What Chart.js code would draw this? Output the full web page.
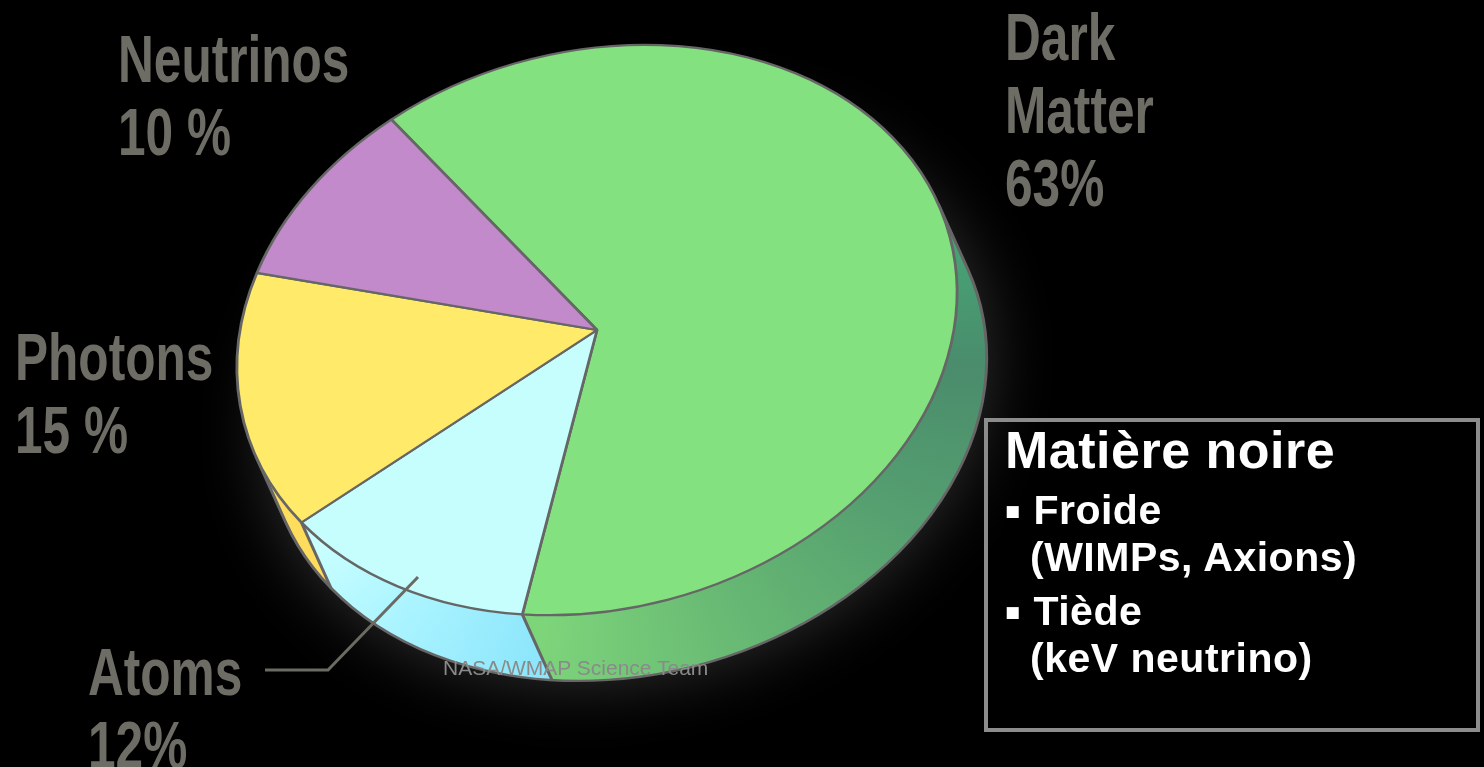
<!DOCTYPE html>
<html>
<head>
<meta charset="utf-8">
<title>Matière noire</title>
<script src="https://cdn.jsdelivr.net/npm/chart.js@4.4.1/dist/chart.umd.min.js"></script>
<style>
  html, body { margin: 0; padding: 0; background: #000; overflow: hidden; }
  #wrap { position: relative; width: 1484px; height: 767px; }
  #pie { position: absolute; left: 0; top: 0; }
  .lbl {
    position: absolute; color: #6d6d66; white-space: nowrap;
    font-family: "Liberation Sans", Arial, sans-serif;
    font-weight: bold; font-size: 67px; line-height: 73px;
    transform: scaleX(0.74); transform-origin: 0 0;
  }
  .box {
    position: absolute; left: 984px; top: 418px; width: 488px; height: 306px;
    border: 4px solid #8c8c8c;
  }
  .bx {
    position: absolute; color: #fff; white-space: nowrap; line-height: 1;
    font-family: "Liberation Sans", Arial, sans-serif; font-weight: bold;
    font-size: 41px; letter-spacing: 0.5px;
  }
  .bx .dot { font-size: 48px; vertical-align: -3px; }
  .credit {
    position: absolute; left: 443px; top: 657px; color: #8a8a8a; white-space: nowrap;
    font-family: "Liberation Sans", Arial, sans-serif; font-size: 21px; line-height: 1;
  }
</style>
</head>
<body>
<div id="wrap">
  <canvas id="pie" width="1484" height="767"></canvas>

  <div class="lbl" style="left:118px; top:22px">Neutrinos<br>10 %</div>
  <div class="lbl" style="left:1005px; top:0px">Dark<br>Matter<br>63%</div>
  <div class="lbl" style="left:15px; top:320px">Photons<br>15 %</div>
  <div class="lbl" style="left:88px; top:635px">Atoms<br>12%</div>

  <div class="credit">NASA/WMAP Science Team</div>

  <div class="box"></div>
  <div class="bx" style="left:1005px; top:424px; font-size:52px">Matière noire</div>
  <div class="bx" style="left:1004px; top:487px"><span class="dot">▪</span> Froide</div>
  <div class="bx" style="left:1030px; top:537px">(WIMPs, Axions)</div>
  <div class="bx" style="left:1004px; top:588px"><span class="dot">▪</span> Tiède</div>
  <div class="bx" style="left:1030px; top:638px">(keV neutrino)</div>
</div>

<script>
// ---------- data ----------
const sliceNames = ['Dark Matter', 'Atoms', 'Photons', 'Neutrinos'];
const shares = [63, 12, 15, 10];
const topColors = ['#83e17f', '#c6fefe', '#ffea6a', '#c28acb'];

// side (rim) colours, as [angle in degrees, colour]
const sideStops = [
  [[-60, '#41b279'], [-11, '#46a877'], [20, '#4a8c6c'], [50, '#559f70'], [80, '#66b773'], [113, '#7dd57a']],
  [[113, '#8de6fb'], [135, '#a8f3ff'], [158, '#c9ffff']],
  [[150, '#ffdd5c'], [215, '#ffdd5c']],
  [[205, '#a877b2'], [250, '#a877b2']]
];

// ---------- tilted disc geometry ----------
const CENTER = { x: 597, y: 330 };
const RADIUS = 365;
const TILT = -14.7 * Math.PI / 180;
const SQUASH = 0.764;
const DEPTH = { x: 12, y: 93 };   // thickness of the disc, in disc units
const LAYERS = 80;
const EDGE = '#666666';

function sideGradient(ctx, cx, cy, stops) {
  const g = ctx.createConicGradient(-Math.PI / 2, cx, cy);
  stops.forEach(([deg, col]) => {
    const off = (((deg + 90) % 360) + 360) % 360 / 360;
    g.addColorStop(off, col);
  });
  return g;
}

function drawSide(ctx, arcs, cx, cy, k) {
  const dx = DEPTH.x / k, dy = DEPTH.y / k;
  const r = arcs[0].outerRadius;
  const fills = arcs.map((a, i) => sideGradient(ctx, cx + dx / 2, cy + dy / 2, sideStops[i]));

  // stack of layers from the bottom face up to just under the top face
  for (let s = LAYERS; s >= 1; s--) {
    const t = s / LAYERS;
    const ox = cx + dx * t, oy = cy + dy * t;
    if (s === LAYERS) {
      // soft halo behind the disc
      ctx.save();
      ctx.shadowColor = 'rgba(255,255,255,0.2)';
      ctx.shadowBlur = 70;
      ctx.beginPath();
      ctx.arc(ox, oy, r, 0, Math.PI * 2);
      ctx.fillStyle = '#222';
      ctx.fill();
      ctx.restore();
    }
    arcs.forEach((a, i) => {
      ctx.beginPath();
      ctx.moveTo(ox, oy);
      ctx.arc(ox, oy, r, a.startAngle, a.endAngle);
      ctx.closePath();
      ctx.fillStyle = fills[i];
      ctx.fill();
    });
  }

  // visible outline: front half of the bottom rim plus the two silhouette edges
  const dir = Math.atan2(dy, dx);
  const a0 = dir - Math.PI / 2, a1 = dir + Math.PI / 2;
  ctx.save();
  ctx.strokeStyle = EDGE;
  ctx.lineWidth = 3 / k;
  ctx.lineJoin = 'round';
  ctx.beginPath();
  ctx.moveTo(cx + r * Math.cos(a0), cy + r * Math.sin(a0));
  ctx.lineTo(cx + dx + r * Math.cos(a0), cy + dy + r * Math.sin(a0));
  ctx.arc(cx + dx, cy + dy, r, a0, a1);
  ctx.lineTo(cx + r * Math.cos(a1), cy + r * Math.sin(a1));
  ctx.stroke();

  // slice boundaries running down the visible rim
  arcs.forEach(a => {
    const ang = a.startAngle;
    const rel = Math.atan2(Math.sin(ang - dir), Math.cos(ang - dir));
    if (Math.abs(rel) < Math.PI / 2) {
      const px = cx + r * Math.cos(ang), py = cy + r * Math.sin(ang);
      ctx.beginPath();
      ctx.moveTo(px, py);
      ctx.lineTo(px + dx, py + dy);
      ctx.stroke();
    }
  });
  ctx.restore();
}

const tiltPlugin = {
  id: 'tilt',
  beforeDatasetsDraw(chart) {
    const ctx = chart.ctx;
    const arcs = chart.getDatasetMeta(0).data.map(el =>
      el.getProps(['x', 'y', 'startAngle', 'endAngle', 'outerRadius'], true));
    const { x, y, outerRadius } = arcs[0];
    const k = RADIUS / outerRadius;
    ctx.save();
    ctx.translate(CENTER.x, CENTER.y);
    ctx.rotate(TILT);
    ctx.scale(k, k * SQUASH);
    ctx.translate(-x, -y);
    drawSide(ctx, arcs, x, y, k);
  },
  afterDatasetsDraw(chart) {
    chart.ctx.restore();
  },
  afterDraw(chart) {
    // leader line for the Atoms label
    const ctx = chart.ctx;
    ctx.save();
    ctx.strokeStyle = '#6b6b63';
    ctx.lineWidth = 3;
    ctx.beginPath();
    ctx.moveTo(418, 577);
    ctx.lineTo(328, 670);
    ctx.lineTo(265, 670);
    ctx.stroke();
    ctx.restore();
  }
};

// ---------- chart ----------
const ctx = document.getElementById('pie').getContext('2d');
new Chart(ctx, {
  type: 'pie',
  data: {
    labels: sliceNames,
    datasets: [{
      data: shares,
      backgroundColor: topColors,
      borderColor: EDGE,
      borderWidth: 3,
      hoverOffset: 0,
      clip: false
    }]
  },
  options: {
    responsive: false,
    animation: false,
    events: [],
    rotation: -23.5,
    plugins: {
      legend: { display: false },
      tooltip: { enabled: false }
    }
  },
  plugins: [tiltPlugin]
});
</script>
</body>
</html>
